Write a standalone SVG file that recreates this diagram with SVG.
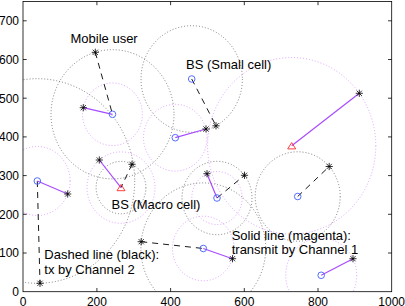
<svg xmlns="http://www.w3.org/2000/svg" xmlns:xlink="http://www.w3.org/1999/xlink" width="405" height="306" viewBox="0 0 405 306">
<defs>
<style>
.cb{fill:none;stroke:#555;stroke-width:0.75;stroke-dasharray:1 2}
.cm{fill:none;stroke:#d48cff;stroke-width:0.8;stroke-dasharray:1 2}
.dl{fill:none;stroke:#000;stroke-width:0.9;stroke-dasharray:6 5}
.ml{fill:none;stroke:#a84cff;stroke-width:1.2}
.bs{fill:none;stroke:#3f5fff;stroke-width:0.9}
.mc{fill:none;stroke:#ff2a2a;stroke-width:0.9}
.ast{fill:none;stroke:#000;stroke-width:0.8}
.lbl{font-family:"Liberation Sans",Arial,sans-serif;font-size:13px;fill:#000}
.tk{font-family:"Liberation Sans",Arial,sans-serif;font-size:12px;fill:#000}
.ax{fill:none;stroke:#000;stroke-width:0.8}
</style>
<clipPath id="clip"><rect x="23" y="1.5" width="368.7" height="290.2"/></clipPath>
<path id="a" class="ast" d="M-3.6,0H3.6M0,-3.6V3.6M-2.6,-2.6L2.6,2.6M-2.6,2.6L2.6,-2.6"/>
<circle id="b" class="bs" r="3.3"/>
<path id="m" class="mc" d="M0,-3.2L4,3.1L-4,3.1Z"/>
</defs>
<rect width="405" height="306" fill="#fff"/>
<g id="coverage" clip-path="url(#clip)">
<ellipse class="cb" cx="112.5" cy="114.3" rx="61.5" ry="64.6"/>
<ellipse class="cm" cx="112.5" cy="114.3" rx="29.9" ry="31.3"/>
<ellipse class="cb" cx="191.7" cy="79" rx="50.7" ry="53.3"/>
<ellipse class="cm" cx="175.3" cy="137.7" rx="31.8" ry="33.4"/>
<ellipse class="cm" cx="37.3" cy="181" rx="32.8" ry="34.5"/>
<ellipse class="cb" cx="37.3" cy="181" rx="97.4" ry="102.3"/>
<ellipse class="cm" cx="121" cy="187.6" rx="34" ry="35.7"/>
<ellipse class="cb" cx="121" cy="187.6" rx="24.9" ry="26.2"/>
<ellipse class="cm" cx="217" cy="198" rx="25.2" ry="26.5"/>
<ellipse class="cb" cx="217" cy="198" rx="35" ry="36.7"/>
<ellipse class="cb" cx="297.7" cy="196.5" rx="42.5" ry="44.7"/>
<ellipse class="cb" cx="203.3" cy="248.5" rx="62.4" ry="65.6"/>
<ellipse class="cm" cx="203.3" cy="248.5" rx="30.8" ry="32.3"/>
<ellipse class="cm" cx="321.2" cy="275.3" rx="35.5" ry="37.3"/>
<ellipse class="cm" cx="291.7" cy="145.8" rx="84.1" ry="88.3"/>
</g>
<g id="axes">
<rect class="ax" x="23" y="1.5" width="368.7" height="290.2"/>
<path class="ax" d="M96.9,291.7v-3.7M170.6,291.7v-3.7M244.3,291.7v-3.7M318,291.7v-3.7M96.9,1.5v3.7M170.6,1.5v3.7M244.3,1.5v3.7M318,1.5v3.7M23,253h3.7M23,214.3h3.7M23,175.6h3.7M23,136.9h3.7M23,98.2h3.7M23,59.5h3.7M23,20.8h3.7M391.7,253h-3.7M391.7,214.3h-3.7M391.7,175.6h-3.7M391.7,136.9h-3.7M391.7,98.2h-3.7M391.7,59.5h-3.7M391.7,20.8h-3.7"/>
<g class="tk" text-anchor="middle">
<text x="23.2" y="305.6">0</text><text x="96.9" y="305.6">200</text><text x="170.6" y="305.6">400</text><text x="244.3" y="305.6">600</text><text x="318" y="305.6">800</text><text x="391.7" y="305.6">1000</text>
</g>
<g class="tk" text-anchor="end">
<text x="19" y="296">0</text><text x="19" y="257.3">100</text><text x="19" y="218.6">200</text><text x="19" y="179.9">300</text><text x="19" y="141.2">400</text><text x="19" y="102.5">500</text><text x="19" y="63.8">600</text><text x="19" y="25.1">700</text>
</g>
</g>
<g id="connectors">
<path class="dl" d="M95.3,52.3L112.5,114.3"/>
<path class="dl" d="M191.7,79L216,125.8"/>
<path class="dl" d="M132,164.3L121,187.6"/>
<path class="dl" d="M37.3,181L40,283.3"/>
<path class="dl" d="M141.2,241.7L203.3,248.5"/>
<path class="dl" d="M217,198L244.5,175.3"/>
<path class="dl" d="M297.7,196.5L329.2,166.5"/>
<path class="ml" d="M83.3,107.7L112.5,114.3"/>
<path class="ml" d="M175.3,137.7L206,129"/>
<path class="ml" d="M291.7,145.8L359.3,93.3"/>
<path class="ml" d="M37.3,181L67.7,194"/>
<path class="ml" d="M99.3,160L121,187.6"/>
<path class="ml" d="M207,173.7L217,198"/>
<path class="ml" d="M203.3,248.5L232.5,258.7"/>
<path class="ml" d="M321.2,275.3L353,258.7"/>
</g>
<g id="bs-small-1"><use xlink:href="#b" x="112.5" y="114.3"/></g>
<g id="bs-small-2"><use xlink:href="#b" x="191.7" y="79"/></g>
<g id="bs-small-3"><use xlink:href="#b" x="175.3" y="137.7"/></g>
<g id="bs-small-4"><use xlink:href="#b" x="37.3" y="181"/></g>
<g id="bs-small-5"><use xlink:href="#b" x="217" y="198"/></g>
<g id="bs-small-6"><use xlink:href="#b" x="297.7" y="196.5"/></g>
<g id="bs-small-7"><use xlink:href="#b" x="203.3" y="248.5"/></g>
<g id="bs-small-8"><use xlink:href="#b" x="321.2" y="275.3"/></g>
<g id="bs-macro-1"><use xlink:href="#m" x="121" y="187.6"/></g>
<g id="bs-macro-2"><use xlink:href="#m" x="291.7" y="145.8"/></g>
<g id="users">
<g id="user-1"><use xlink:href="#a" x="95.3" y="52.3"/></g>
<g id="user-2"><use xlink:href="#a" x="83.3" y="107.7"/></g>
<g id="user-3"><use xlink:href="#a" x="206" y="129"/></g>
<g id="user-4"><use xlink:href="#a" x="216" y="125.8"/></g>
<g id="user-5"><use xlink:href="#a" x="359.3" y="93.3"/></g>
<g id="user-6"><use xlink:href="#a" x="132" y="164.3"/></g>
<g id="user-7"><use xlink:href="#a" x="99.3" y="160"/></g>
<g id="user-8"><use xlink:href="#a" x="67.7" y="194"/></g>
<g id="user-9"><use xlink:href="#a" x="40" y="283.3"/></g>
<g id="user-10"><use xlink:href="#a" x="141.2" y="241.7"/></g>
<g id="user-11"><use xlink:href="#a" x="207" y="173.7"/></g>
<g id="user-12"><use xlink:href="#a" x="244.5" y="175.3"/></g>
<g id="user-13"><use xlink:href="#a" x="329.2" y="166.5"/></g>
<g id="user-14"><use xlink:href="#a" x="232.5" y="258.7"/></g>
<g id="user-15"><use xlink:href="#a" x="353" y="258.7"/></g>
</g>
<g id="labels" class="lbl">
<text x="70.5" y="42.5">Mobile user</text>
<text x="186" y="68.5">BS (Small cell)</text>
<text x="111.5" y="209">BS (Macro cell)</text>
<text x="44.3" y="259.3">Dashed line (black):</text>
<text x="44.3" y="274">tx by Channel 2</text>
<text x="231.7" y="239.5">Solid line (magenta):</text>
<text x="231.7" y="254">transmit by Channel 1</text>
</g>
</svg>
